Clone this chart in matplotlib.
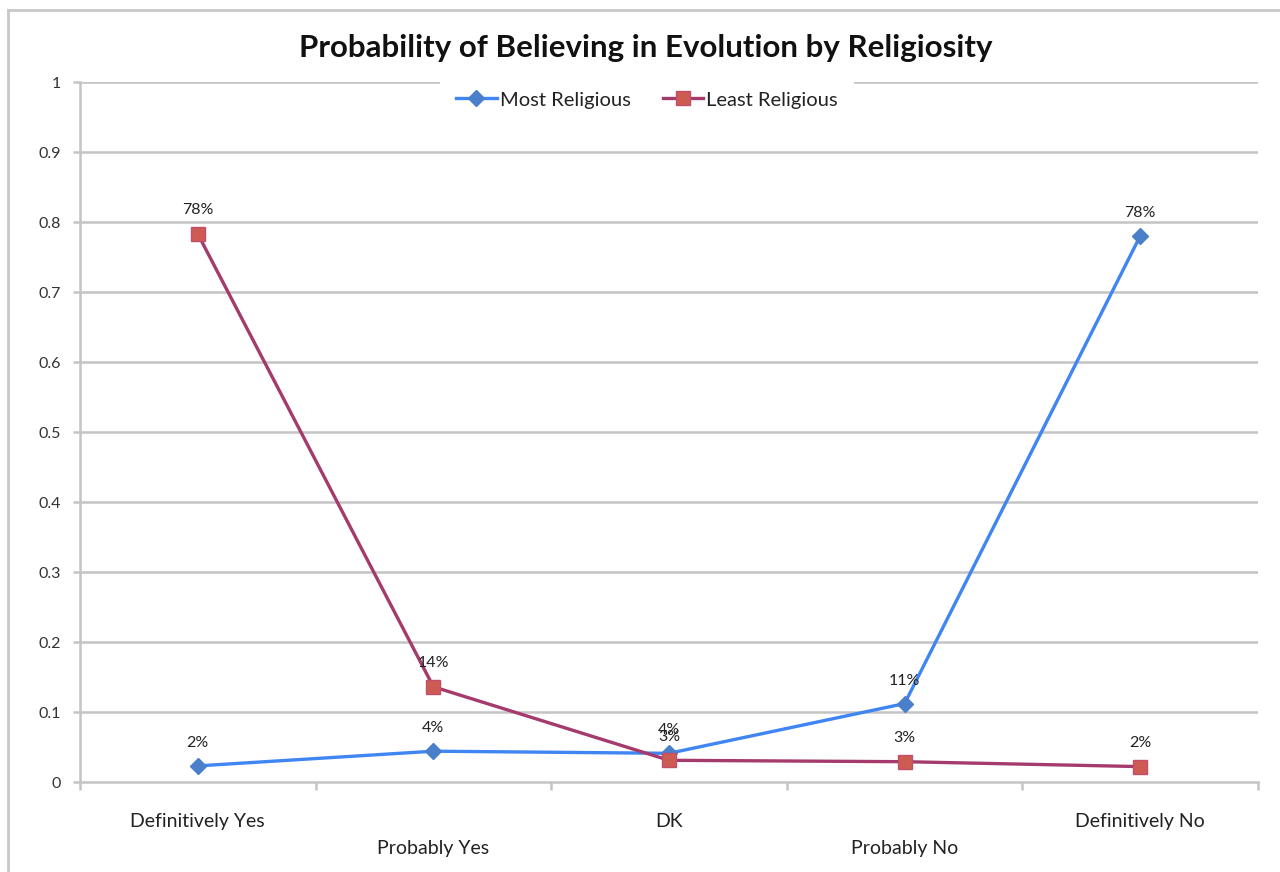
import matplotlib
matplotlib.use("Agg")
import matplotlib.pyplot as plt
from matplotlib.lines import Line2D

plt.rcParams['font.family'] = ['Lato', 'DejaVu Sans']

categories = ["Definitively Yes", "Probably Yes", "DK", "Probably No", "Definitively No"]
most_religious = [0.023, 0.044, 0.041, 0.112, 0.780]
least_religious = [0.783, 0.136, 0.031, 0.029, 0.022]
most_labels = ["2%", "4%", "4%", "11%", "78%"]
least_labels = ["78%", "14%", "3%", "3%", "2%"]
y_ticks = [0, 0.1, 0.2, 0.3, 0.4, 0.5, 0.6, 0.7, 0.8, 0.9, 1]
y_tick_labels = ["0", "0.1", "0.2", "0.3", "0.4", "0.5", "0.6", "0.7", "0.8", "0.9", "1"]

fig = plt.figure(figsize=(12.8, 8.72), dpi=100)
ax = fig.add_axes([80/1280, 1 - 782/872, (1258-80)/1280, 700/872])

grid_c = "#C4C4C4"
for yv in y_ticks[1:]:
    ax.axhline(yv, color=grid_c, lw=1.8, zorder=1)

x = list(range(len(categories)))
blue_line = "#3F86F2"
blue_mk = "#4A7FC9"
red_line = "#A53A6C"
red_mk = "#CE5B52"

ax.plot(x, most_religious, color=blue_line, lw=2.4, marker="D", ms=8,
        mfc=blue_mk, mec=blue_mk, zorder=3, label="Most Religious")
ax.plot(x, least_religious, color=red_line, lw=2.4, marker="s", ms=10,
        mfc=red_mk, mec="#C0506A", mew=1, zorder=4, label="Least Religious")

for xi, v, t in zip(x, most_religious, most_labels):
    ax.annotate(t, (xi, v), xytext=(0, 16.5), textcoords="offset points",
                ha="center", va="center", fontsize=11.5, color="#222222", zorder=5)
for xi, v, t in zip(x, least_religious, least_labels):
    ax.annotate(t, (xi, v), xytext=(0, 17), textcoords="offset points",
                ha="center", va="center", fontsize=11.5, color="#222222", zorder=5)

ax.set_xlim(-0.5, 4.5)
ax.set_ylim(0, 1)
ax.set_yticks(y_ticks)
ax.set_yticklabels(y_tick_labels, fontsize=11.5, color="#333333")
ax.tick_params(axis="y", length=5, width=1.8, color=grid_c, pad=9)

ax.set_xticks(x)
ax.set_xticklabels(categories, fontsize=14, color="#222222")
ax.tick_params(axis="x", which="major", length=0)
for i, tk in enumerate(ax.xaxis.get_major_ticks()):
    tk.set_pad(22.5 if i % 2 == 0 else 41.5)
ax.set_xticks([-0.5, 0.5, 1.5, 2.5, 3.5, 4.5], minor=True)
ax.tick_params(axis="x", which="minor", length=6, width=1.8, color=grid_c)

for s in ["top", "right"]:
    ax.spines[s].set_visible(False)
for s in ["left", "bottom"]:
    ax.spines[s].set_color(grid_c)
    ax.spines[s].set_linewidth(1.8)

fig.text(646/1280, 1 - 48/872, "Probability of Believing in Evolution by Religiosity",
         ha="center", va="center", fontsize=22.5, fontweight="bold", color="#111111")

leg = fig.legend(loc="center", bbox_to_anchor=(647/1280, 1 - 100/872), ncol=2,
                 frameon=True, fontsize=14.5, handlelength=2.0, columnspacing=1.6,
                 handletextpad=0.15, borderpad=0.8, borderaxespad=0)
leg.get_frame().set_facecolor("white")
leg.get_frame().set_edgecolor("none")
leg.get_frame().set_alpha(1)
for t in leg.get_texts():
    t.set_color("#222222")

# outer chart border (left and top visible)
fig.add_artist(Line2D([8/1280, 8/1280], [0, 1 - 10/872], transform=fig.transFigure,
                      color="#C8C8C8", lw=2))
fig.add_artist(Line2D([8/1280, 1], [1 - 10/872, 1 - 10/872], transform=fig.transFigure,
                      color="#C8C8C8", lw=2))

fig.savefig("out.png", dpi=100, facecolor="white")
